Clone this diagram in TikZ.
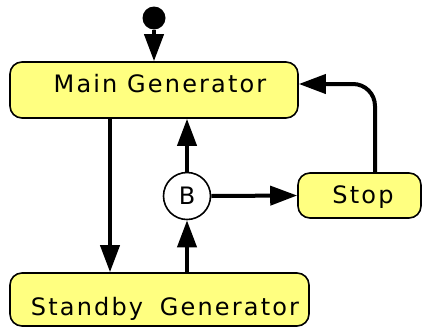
\documentclass[tikz,border=0pt]{standalone}
\usepackage{fontspec}
\setmainfont{DejaVu Sans}
\newfontfamily\labfont[LetterSpace=9]{DejaVu Sans}
\usetikzlibrary{arrows.meta}
\definecolor{stfill}{HTML}{FFFF80}
\newcommand{\placetext}[3]{\hspace*{#1}\raisebox{#2}[0pt][0pt]{\makebox[0pt]{#3}}}
\begin{document}
\begin{tikzpicture}[x=1pt,y=1pt,
  state/.style={draw=black,line width=1.6pt,fill=stfill,rounded corners=12pt,inner sep=0pt,font=\labfont\fontsize{24}{26}\selectfont},
  conn/.style={line width=4pt,-{Triangle[length=27pt,width=19pt]}},
  junc/.style={circle,draw=black,line width=1.6pt,fill=white,minimum size=47pt,inner sep=0pt,font=\labfont\fontsize{24}{26}\selectfont}]
\useasboundingbox (0,0) rectangle (422,-327);
\node[circle,fill=black,minimum size=23pt,inner sep=0pt] (init) at (154,-18) {};
\node[state,minimum width=288pt,minimum height=56pt] (main) at (154,-90) {\placetext{12pt}{-2.5pt}{Main Generator}};
\node[state,minimum width=299pt,minimum height=53pt] (standby) at (159.5,-299.5) {\placetext{11pt}{-16pt}{Standby\hspace{7pt} Generator}};
\node[state,minimum width=123pt,minimum height=45pt] (stop) at (359.5,-195.5) {\placetext{7pt}{-8pt}{Stop}};
\node[junc] (B) at (187,-196) {B};
\coordinate (c1) at (110,0);
\coordinate (c2) at (375,-84);
\draw[conn] (init) -- (main.north);
\draw[conn] (main.south -| c1) -- (standby.north -| c1);
\draw[conn] (standby.north -| B) -- (B.south);
\draw[conn] (B.north) -- (main.south -| B);
\draw[conn] (B.east) -- (stop.west);
\draw[conn,rounded corners=22pt] (stop.north -| c2) -- (c2) -- (c2 -| main.east);
\end{tikzpicture}
\end{document}
